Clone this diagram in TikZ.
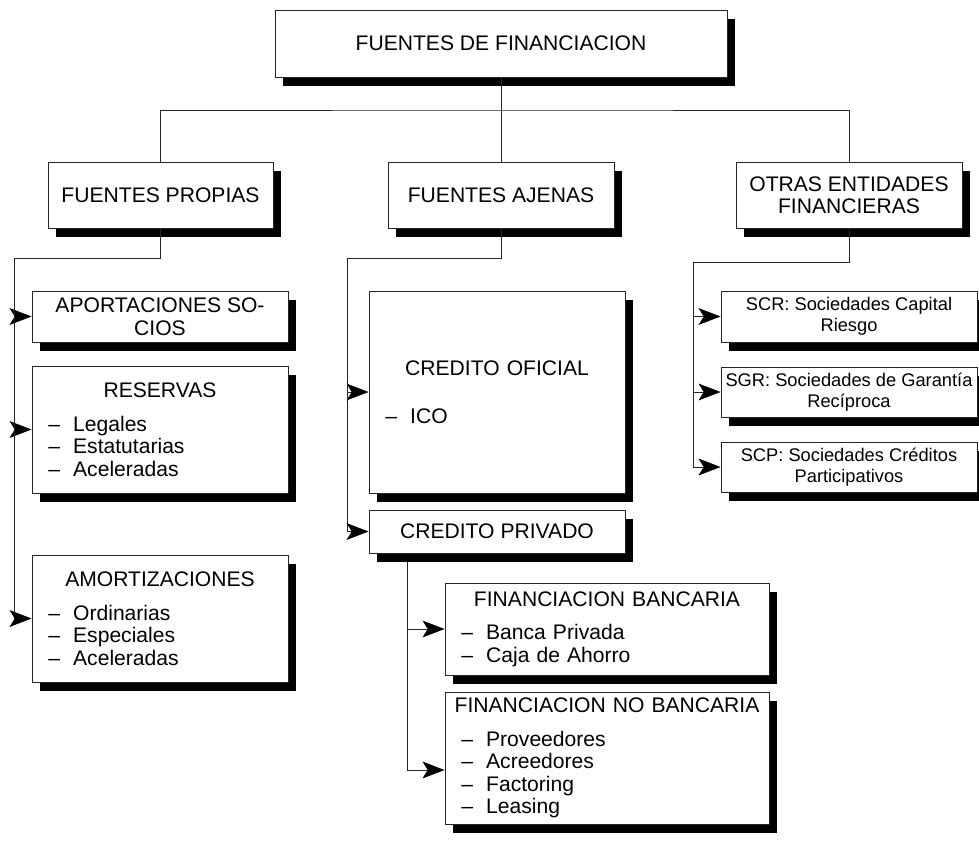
\documentclass[tikz,border=0pt]{standalone}
\usepackage{fontspec}
\setmainfont{Liberation Sans}
\usetikzlibrary{arrows.meta,shadows}

\newcommand{\itm}[1]{\hspace*{0.36cm}\makebox[0.62cm][l]{--}#1}
\newcommand{\titulo}[1]{\hfill #1\hfill\mbox{}}

\tikzset{
  caja/.style={draw=black!85, line width=0.6pt, fill=white,
    drop shadow={shadow xshift=0.2cm, shadow yshift=-0.22cm, opacity=1, fill=black},
    font=\fontsize{15}{16}\selectfont, align=center, inner sep=1pt},
  lista/.style={caja, align=left, text width=#1},
  chica/.style={caja, font=\fontsize{13}{15}\selectfont},
  linea/.style={draw=black!85, line width=0.6pt},
  flecha/.style={linea, -{Stealth[length=5.5mm,width=4.2mm,inset=1.3mm,black]}}
}

\begin{document}
\begin{tikzpicture}[x=0.025cm, y=-0.025cm]
\useasboundingbox (0,0) rectangle (979,841);
% nivel 1
\node[caja, minimum width=11.3cm, minimum height=1.675cm] (fuentes) at (501,43.5) {FUENTES DE FINANCIACION};
% nivel 2
\node[caja, minimum width=5.625cm, minimum height=1.65cm] (propias) at (160.5,195) {FUENTES PROPIAS};
\node[caja, minimum width=5.65cm, minimum height=1.65cm] (ajenas) at (501,195) {FUENTES AJENAS};
\node[caja, minimum width=5.65cm, minimum height=1.65cm] (otras) at (849,195) {OTRAS ENTIDADES\\FINANCIERAS};
% fuentes propias
\node[caja, minimum width=6.4cm, minimum height=1.275cm] (aport) at (160,316.5) {APORTACIONES SO-\\CIOS};
\node[lista=6.3cm, minimum width=6.4cm, minimum height=3.175cm] (reservas) at (160,429.5)
  {\titulo{RESERVAS}\\[8pt]\itm{Legales}\\\itm{Estatutarias}\\\itm{Aceleradas}};
\node[lista=6.3cm, minimum width=6.4cm, minimum height=3.175cm] (amort) at (160,618.5)
  {\titulo{AMORTIZACIONES}\\[8pt]\itm{Ordinarias}\\\itm{Especiales}\\\itm{Aceleradas}};
% fuentes ajenas
\node[lista=6.3cm, minimum width=6.4cm, minimum height=5.05cm] (oficial) at (497,392)
  {\titulo{CREDITO OFICIAL}\\[18pt]\itm{ICO}};
\node[caja, minimum width=6.4cm, minimum height=1.075cm] (privado) at (497,531.5) {CREDITO PRIVADO};
\node[lista=8cm, minimum width=8.1cm, minimum height=2.3cm] (bancaria) at (607,629)
  {\titulo{FINANCIACION BANCARIA}\\[8pt]\itm{Banca Privada}\\\itm{Caja de Ahorro}};
\node[lista=8cm, minimum width=8.1cm, minimum height=3.3cm] (nobancaria) at (607,758)
  {\titulo{FINANCIACION NO BANCARIA}\\[8pt]\itm{Proveedores}\\\itm{Acreedores}\\\itm{Factoring}\\\itm{Leasing}};
% otras entidades
\node[chica, minimum width=6.4cm, minimum height=1.275cm] (scr) at (849,316.5) {SCR: Sociedades Capital\\Riesgo};
\node[chica, minimum width=6.4cm, minimum height=1.25cm] (sgr) at (849,392) {SGR: Sociedades de Garantía\\Recíproca};
\node[chica, minimum width=6.4cm, minimum height=1.25cm] (scp) at (849,467) {SCP: Sociedades Créditos\\Participativos};

% conexiones
\coordinate (bus) at (501,110);
\coordinate (pbus) at (14,258);
\coordinate (abus) at (347,258);
\coordinate (cbus) at (407,562);
\coordinate (obus) at (693,262);
\draw[linea] (fuentes.south) -- (ajenas.north);
\draw[linea] (propias.north) |- (bus) -| (otras.north);

\draw[linea] (propias.south) |- (pbus);
\draw[flecha] (pbus |- aport.west) -- (aport.west);
\draw[flecha] (pbus |- reservas.west) -- (reservas.west);
\draw[flecha] (pbus) |- (amort.west);

\draw[linea] (ajenas.south) |- (abus);
\draw[flecha] (abus |- oficial.west) -- (oficial.west);
\draw[flecha] (abus) |- (privado.west);

\draw[flecha] (cbus |- bancaria.west) -- (bancaria.west);
\draw[flecha] (cbus) |- ([yshift=-0.3cm]nobancaria.west);

\draw[linea] (otras.south) |- (obus);
\draw[flecha] (obus |- scr.west) -- (scr.west);
\draw[flecha] (obus |- sgr.west) -- (sgr.west);
\draw[flecha] (obus) |- (scp.west);
\end{tikzpicture}
\end{document}
